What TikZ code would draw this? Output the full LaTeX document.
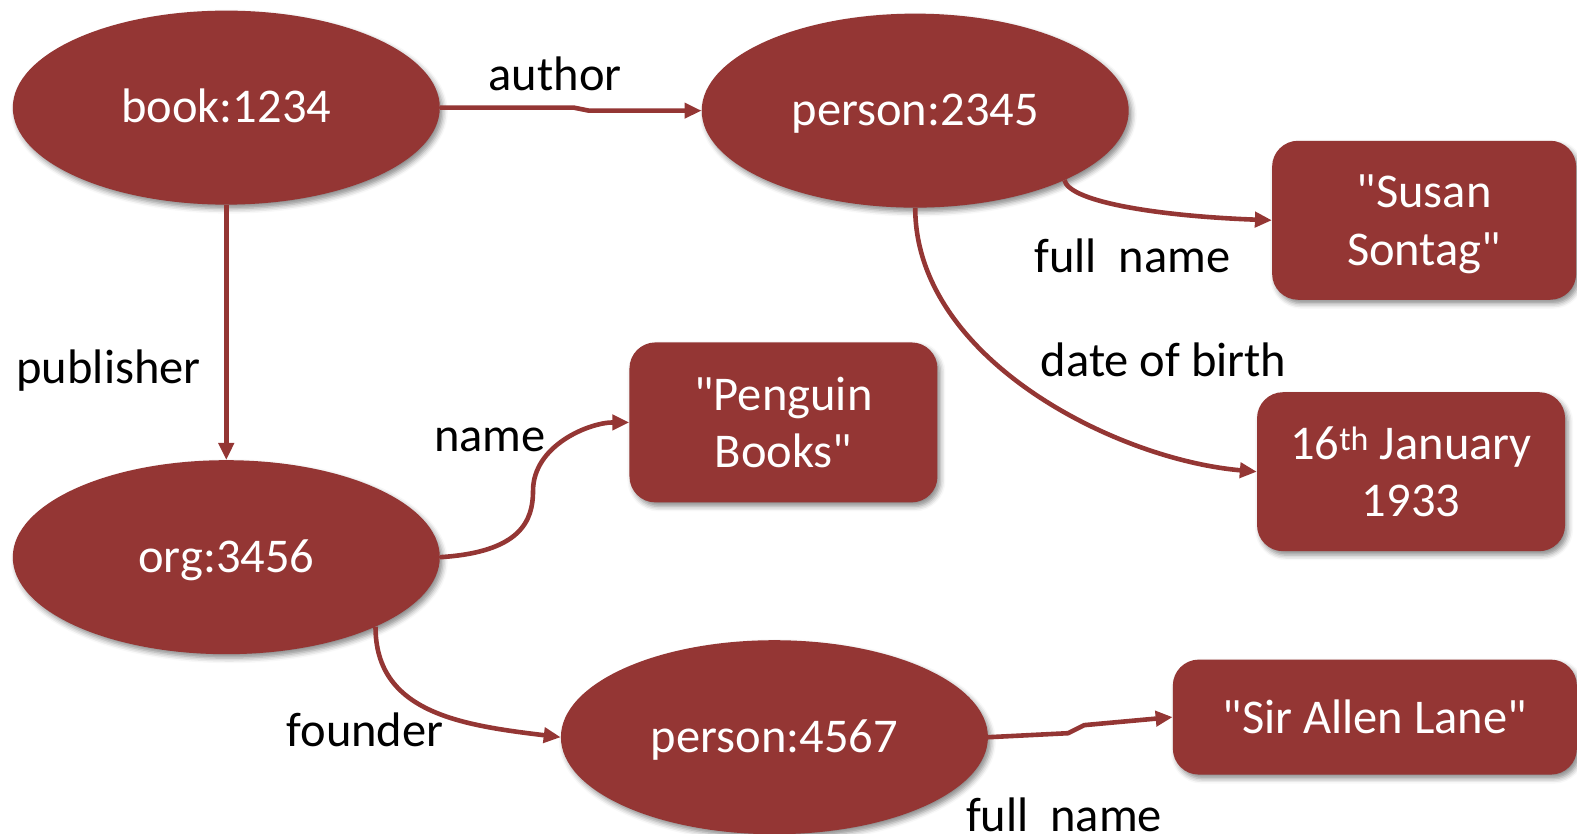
\documentclass[tikz,border=0pt]{standalone}
\usepackage{fontspec}
\newfontfamily\cfont{Carlito}
\usetikzlibrary{shapes.geometric,arrows.meta,shadows.blur}
\definecolor{dred}{RGB}{148,54,52}
\tikzset{
  ent/.style={ellipse, fill=dred, text=white, font=\cfont\fontsize{48.5}{57.5}\selectfont,
    minimum width=427pt, minimum height=194pt, inner sep=0pt, text height=30.6pt, text depth=0pt,
    blur shadow={shadow xshift=3pt, shadow yshift=-4pt, shadow blur radius=5pt, shadow opacity=45}},
  lit/.style={rectangle, rounded corners=26pt, fill=dred, text=white, align=center,
    font=\cfont\fontsize{48.5}{57.5}\selectfont, inner sep=0pt, text depth=0pt,
    blur shadow={shadow xshift=3pt, shadow yshift=-4pt, shadow blur radius=5pt, shadow opacity=45}},
  lbl/.style={text=black, font=\cfont\fontsize{48.5}{57.5}\selectfont, inner sep=0pt},
  rel/.style={draw=dred, line width=4.6pt, -{Triangle[length=17pt,width=15pt]}}
}
\begin{document}
\begin{tikzpicture}[x=1.0057pt,y=-1.0057pt]
\useasboundingbox (0,0) rectangle (1568,829);
% entities
\node[ent] (book) at (225,107) {book:1234};
\node[ent] (p2) at (910,110) {person:2345};
\node[ent] (org) at (225,554) {org:3456};
\node[ent] (p4) at (770,733) {person:4567};
% literals
\node[lit, minimum width=304pt, minimum height=159pt] (susan) at (1416,219) {"Susan\\Sontag"};
\node[lit, minimum width=308pt, minimum height=160pt] (peng) at (779,420) {"Penguin\\Books"};
\node[lit, minimum width=308pt, minimum height=159pt] (dob) at (1403,469) {16\textsuperscript{th} January\\1933};
\node[lit, minimum width=404pt, minimum height=115pt] (lane) at (1367,713) {"Sir Allen Lane"};
% connectors
\draw[rel] (book.east) -- ++(133,0) -- ++(15,3) -- (p2.west);
\draw[rel] (book.south) -- (org.north);
\draw[rel] (p2.-25) .. controls ++(5,22) and ++(-110,-4) .. (susan.west);
\draw[rel] (p2.south) .. controls ++(0,150) and ++(-140,-12) .. (dob.west);
\coordinate (nm) at (530,488);
\draw[rel] (org.east) .. controls ++(80,-5) and ++(0,30) .. (nm) .. controls ++(0,-45) and ++(-40,0) .. (peng.west);
\draw[rel] (org.-25) .. controls ++(0,85) and ++(-100,-12) .. (p4.west);
\coordinate (k1) at (1062,729);
\coordinate (k2) at (1078,721);
\draw[rel] (p4.east) -- (k1) -- (k2) -- (lane.west);
% labels
\node[lbl] (la) at (552,73) {author};
\node[lbl] (lp) at (108,368) {publisher};
\node[lbl] (lf1) at (1126,254) {full\ \ name};
\node[lbl] (ld) at (1157,358) {date of birth};
\node[lbl] (ln) at (487,437) {name};
\node[lbl] (lfo) at (363,726) {founder};
\node[lbl] (lf2) at (1058,810) {full\ \ name};
\end{tikzpicture}
\end{document}
